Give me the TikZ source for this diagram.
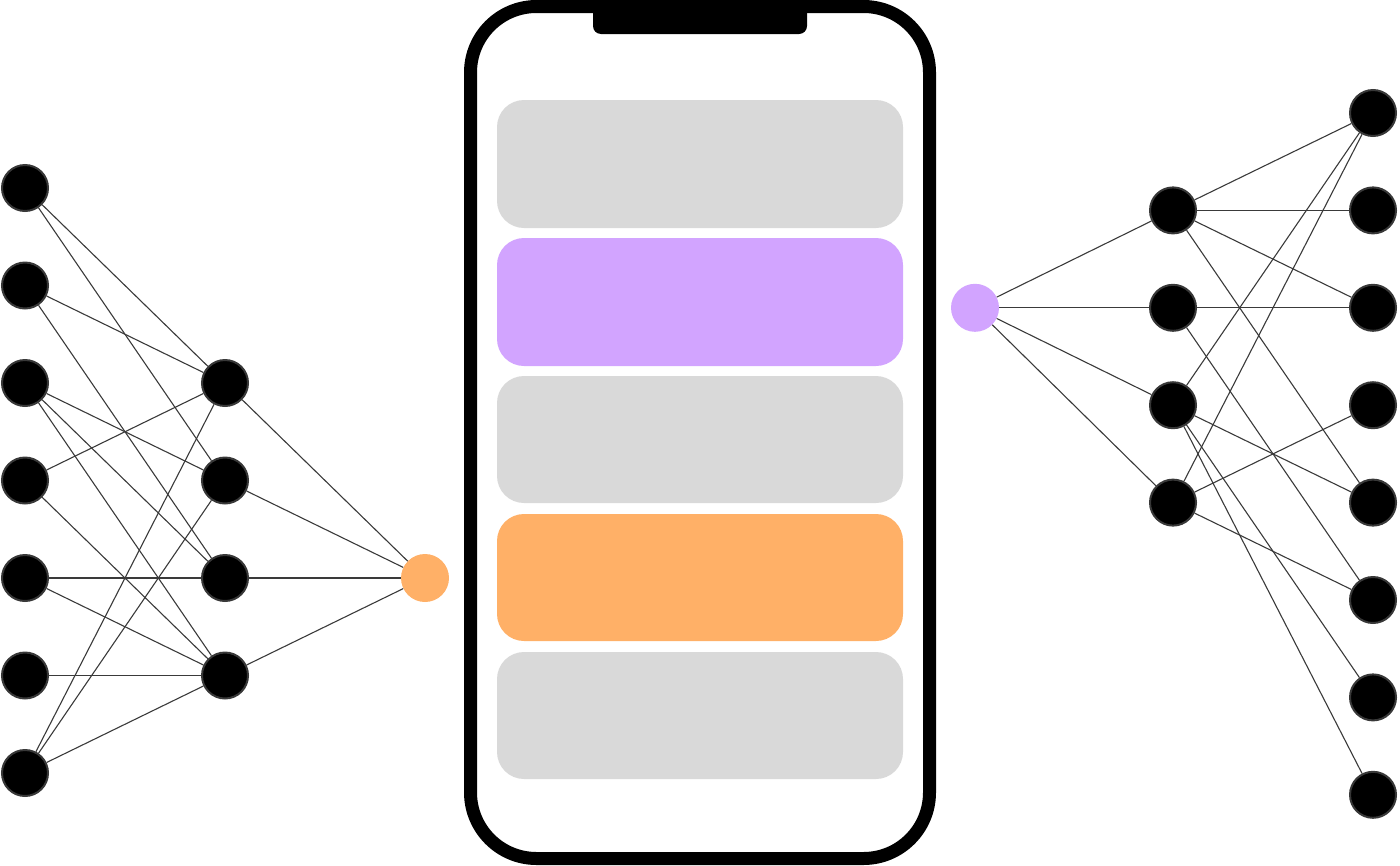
\documentclass[tikz,border=0pt]{standalone}
\usepackage{tikz}
\usetikzlibrary{positioning}
\definecolor{cardgray}{HTML}{D9D9D9}
\definecolor{cardpurple}{HTML}{D2A4FF}
\definecolor{cardorange}{HTML}{FFB067}
\definecolor{wire}{HTML}{3A3A3A}
\tikzset{neuron/.style={circle,fill=black,draw=black!78,line width=2pt,minimum size=46pt,inner sep=0pt}}
\tikzset{outorange/.style={circle,fill=cardorange,minimum size=48pt,inner sep=0pt}}
\tikzset{outpurple/.style={circle,fill=cardpurple,minimum size=48pt,inner sep=0pt}}
\tikzset{card/.style={rounded corners=27pt}}

\begin{document}
\begin{tikzpicture}[x=1pt,y=-1pt,node distance=97.5pt,on grid]
        \useasboundingbox (0,0) rectangle (1400,865);
        % left net
        \node(i1)[neuron] at (25,188){};
        \node(i2)[neuron,below=of i1]{};
        \node(i3)[neuron,below=of i2]{};
        \node(i4)[neuron,below=of i3]{};
        \node(i5)[neuron,below=of i4]{};
        \node(i6)[neuron,below=of i5]{};
        \node(i7)[neuron,below=of i6]{};
        \node(h1)[neuron,right=200pt of i3]{};
        \node(h2)[neuron,below=of h1]{};
        \node(h3)[neuron,below=of h2]{};
        \node(h4)[neuron,below=of h3]{};
        \node(o)[outorange,right=200pt of h3]{};
        \draw[wire,line width=1.1pt]
        (i1) edge (h1) (i1) edge (h2)
        (i2) edge (h1) (i2) edge (h3)
        (i3) edge (h2) (i3) edge (h3) (i3) edge (h4)
        (i4) edge (h1) (i4) edge (h4)
        (i5) edge (h3) (i5) edge (h4)
        (i6) edge (h4)
        (i7) edge (h1) (i7) edge (h2) (i7) edge (h4)
        (h1) edge (o) (h2) edge (o) (h3) edge (o) (h4) edge (o);
        % right net
        \node(k1)[neuron] at (1373,113){};
        \node(k2)[neuron,below=97.4pt of k1]{};
        \node(k3)[neuron,below=97.4pt of k2]{};
        \node(k4)[neuron,below=97.4pt of k3]{};
        \node(k5)[neuron,below=97.4pt of k4]{};
        \node(k6)[neuron,below=97.4pt of k5]{};
        \node(k7)[neuron,below=97.4pt of k6]{};
        \node(k8)[neuron,below=97.4pt of k7]{};
        \node(j1)[neuron,left=200pt of k2]{};
        \node(j2)[neuron,left=200pt of k3]{};
        \node(j3)[neuron,left=200pt of k4]{};
        \node(j4)[neuron,left=200pt of k5]{};
        \node(p)[outpurple,left=198pt of j2]{};
        \draw[wire,line width=1.1pt]
        (p) edge (j1) (p) edge (j2) (p) edge (j3) (p) edge (j4)
        (j1) edge (k1) (j1) edge (k2) (j1) edge (k3) (j1) edge (k5)
        (j2) edge (k3) (j2) edge (k6)
        (j3) edge (k1) (j3) edge (k5) (j3) edge (k7) (j3) edge (k8)
        (j4) edge (k1) (j4) edge (k4) (j4) edge (k6);
        % phone
        \fill[cardgray,card] (497,100) rectangle (903,228);
        \fill[cardpurple,card] (497,238) rectangle (903,366);
        \fill[cardgray,card] (497,376) rectangle (903,503);
        \fill[cardorange,card] (497,514) rectangle (903,641);
        \fill[cardgray,card] (497,652) rectangle (903,779);
        \fill[black,rounded corners=8pt] (593,2) rectangle (807,34);
        \draw[line width=13pt,rounded corners=66pt] (470.5,6.5) rectangle (929.5,858.5);
      \end{tikzpicture}
\end{document}
